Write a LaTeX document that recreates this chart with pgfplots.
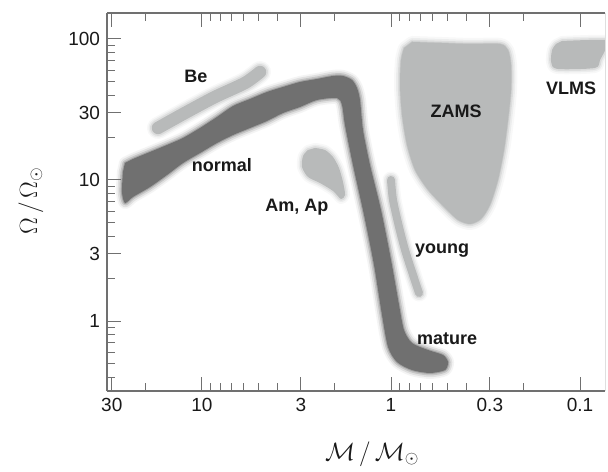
\RequirePackage{fix-cm}
\documentclass[border=0pt]{standalone}
\usepackage{fontspec}
\setmainfont{Liberation Sans}
\usepackage{pgfplots}
\usepackage{pgfplotstable}
\pgfplotsset{compat=1.18}
\definecolor{darkband}{RGB}{112,112,112}
\definecolor{lightblob}{RGB}{184,186,186}
\definecolor{axisgray}{RGB}{112,112,112}
\definecolor{txt}{RGB}{25,25,25}

\pgfplotstableread{
x y
25.55 13.20
23.18 14.09
18.84 15.80
15.32 17.71
12.60 19.86
10.24 23.38
8.33 27.98
6.85 33.47
5.57 37.53
4.53 42.08
3.73 45.65
3.03 49.55
2.464 52.03
2.027 54.65
1.795 54.65
1.608 51.19
1.513 44.93
1.459 36.9
1.407 22.62
1.292 12.78
1.130 6.13
1.000 2.708
0.907 1.299
0.854 0.863
0.774 0.698
0.637 0.623
0.531 0.574
0.4994 0.512
0.518 0.449
0.622 0.428
0.774 0.449
0.930 0.512
1.037 0.654
1.116 1.103
1.230 2.496
1.389 5.65
1.589 12.78
1.752 24.55
1.816 34.03
1.931 38.15
2.464 36.93
3.03 32.94
3.73 29.87
4.53 26.21
5.57 23.38
6.85 20.85
8.33 18.30
10.24 15.54
12.60 13.20
15.32 10.85
18.84 8.92
23.18 7.58
25.55 6.87
26.5 8.22
26.18 11.40
}\normalband

\pgfplotstableread{
x y
17.09 23.38
12.30 29.87
8.54 38.79
5.92 48.75
4.93 58.3
}\beband

\pgfplotstableread{
x y
1.0 10.0
0.976 7.21
0.907 4.64
0.843 3.19
0.774 2.226
0.711 1.580
}\young

\pgfplotstableread{
x y
2.524 16.87
2.235 16.32
2.027 14.56
1.884 12.16
1.795 9.68
1.751 7.83
1.840 7.33
2.027 8.36
2.375 9.52
2.749 10.50
2.957 12.37
2.921 14.80
2.749 16.32
}\amap

\pgfplotstableread{
x y
0.774 95.2
0.5506 93.7
0.382 92.2
0.2651 92.2
0.2404 83.6
0.2318 65.4
0.2318 43.5
0.2404 26.65
0.2524 16.32
0.2716 10.0
0.2995 6.65
0.3341 5.29
0.382 4.874
0.4418 5.20
0.5179 6.33
0.637 8.50
0.7464 11.78
0.8230 17.71
0.8745 28.91
0.8962 47.2
0.885 71.0
0.8535 86.4
}\zams

\pgfplotstableread{
x y
0.1245 96.8
0.0737 98.4
0.0720 89.2
0.0784 71.0
0.0833 62.3
0.1323 61.3
0.1423 68.7
0.1406 83.6
0.1339 92.2
}\vlms

\pgfplotsset{
  soft/.style={draw=#1, line join=round, line cap=round, fill=none},
}

\begin{document}
\begin{tikzpicture}
\begin{axis}[
  scale only axis, width=498pt, height=378pt,
  xmode=log, ymode=log, x dir=reverse,
  xmin=0.0738, xmax=31.8, ymin=0.319, ymax=152.8,
  axis x line*=box, axis y line*=left,
  axis line style={axisgray, line width=1.2pt},
  xtick={0.1,0.3,1,3,10,30}, xticklabels={0.1,0.3,1,3,10,30},
  ytick={1,3,10,30,100}, yticklabels={1,3,10,30,100},
  minor xtick={0.2,0.4,0.5,0.6,0.7,0.8,0.9,2,4,5,6,7,8,9,20},
  minor ytick={0.4,0.5,0.6,0.7,0.8,0.9,2,4,5,6,7,8,9,20,40,50,60,70,80,90},
  tick align=inside, xtick pos=both, ytick pos=left,
  major tick length=14pt, minor tick length=8pt,
  every tick/.style={axisgray, line width=1pt},
  ticklabel style={font=\fontsize{19}{19}\selectfont, text=txt},
  yticklabel style={xshift=-3.5pt},
  xticklabel style={yshift=-4pt},
  smooth, tension=0.45,
]
% ZAMS
\addplot[soft=lightblob, line width=12pt, draw opacity=0.10] table {\zams} --cycle;
\addplot[soft=lightblob, line width=8pt, draw opacity=0.18] table {\zams} --cycle;
\addplot[soft=lightblob, line width=4.5pt, draw opacity=0.3] table {\zams} --cycle;
\addplot[soft=lightblob, line width=1.5pt, draw opacity=0.5] table {\zams} --cycle;
\addplot[draw=none, fill=lightblob] table {\zams} --cycle;
% VLMS
\addplot[soft=lightblob, line width=10pt, draw opacity=0.10] table {\vlms} --cycle;
\addplot[soft=lightblob, line width=6.5pt, draw opacity=0.18] table {\vlms} --cycle;
\addplot[soft=lightblob, line width=3.5pt, draw opacity=0.3] table {\vlms} --cycle;
\addplot[draw=none, fill=lightblob] table {\vlms} --cycle;
% Am, Ap
\addplot[soft=lightblob, line width=10pt, draw opacity=0.10] table {\amap} --cycle;
\addplot[soft=lightblob, line width=6.5pt, draw opacity=0.18] table {\amap} --cycle;
\addplot[soft=lightblob, line width=3.5pt, draw opacity=0.3] table {\amap} --cycle;
\addplot[draw=none, fill=lightblob] table {\amap} --cycle;
% Be
\addplot[soft=lightblob, line width=22pt, draw opacity=0.10] table {\beband};
\addplot[soft=lightblob, line width=19pt, draw opacity=0.18] table {\beband};
\addplot[soft=lightblob, line width=16pt, draw opacity=0.3] table {\beband};
\addplot[soft=lightblob, line width=12.5pt] table {\beband};
% young
\addplot[soft=lightblob, line width=17pt, draw opacity=0.10] table {\young};
\addplot[soft=lightblob, line width=14pt, draw opacity=0.18] table {\young};
\addplot[soft=lightblob, line width=11pt, draw opacity=0.3] table {\young};
\addplot[soft=lightblob, line width=8pt] table {\young};
% normal / mature band
\addplot[soft=darkband, line width=12pt, draw opacity=0.08] table {\normalband} --cycle;
\addplot[soft=darkband, line width=8.5pt, draw opacity=0.15] table {\normalband} --cycle;
\addplot[soft=darkband, line width=5pt, draw opacity=0.25] table {\normalband} --cycle;
\addplot[soft=darkband, line width=2pt, draw opacity=0.4] table {\normalband} --cycle;
\addplot[draw=none, fill=darkband] table {\normalband} --cycle;

\begin{scope}[every node/.style={font=\bfseries\fontsize{18}{18}\selectfont, text=txt, anchor=base, inner sep=0pt}]
\node at (axis cs:10.76,48.75) {Be};
\node at (axis cs:7.84,11.40) {normal};
\node at (axis cs:3.144,5.93) {Am, Ap};
\node at (axis cs:0.4530,27.53) {ZAMS};
\node at (axis cs:0.1116,40.07) {VLMS};
\node at (axis cs:0.5374,3.035) {young};
\node at (axis cs:0.5054,0.687) {mature};
\end{scope}

\coordinate (SW) at (rel axis cs:0,0);
\coordinate (NE) at (rel axis cs:1,1);
\end{axis}
\draw[gray!25, line width=1pt] (SW -| NE) -- (NE);
\node[anchor=base, font=\fontsize{25}{25}\selectfont, text=txt] at ([shift={(265pt,-69pt)}]SW) {$\mathcal{M}\,/\,\mathcal{M}_{\odot}$};
\node[rotate=90, anchor=center, font=\fontsize{25}{25}\selectfont, text=txt] at ([shift={(-76pt,190pt)}]SW) {$\Omega\,/\,\Omega_{\odot}$};
\pgfresetboundingbox
\path ([shift={(-107pt,-81pt)}]SW) rectangle ([shift={(3pt,13pt)}]NE);
\end{tikzpicture}
\end{document}
